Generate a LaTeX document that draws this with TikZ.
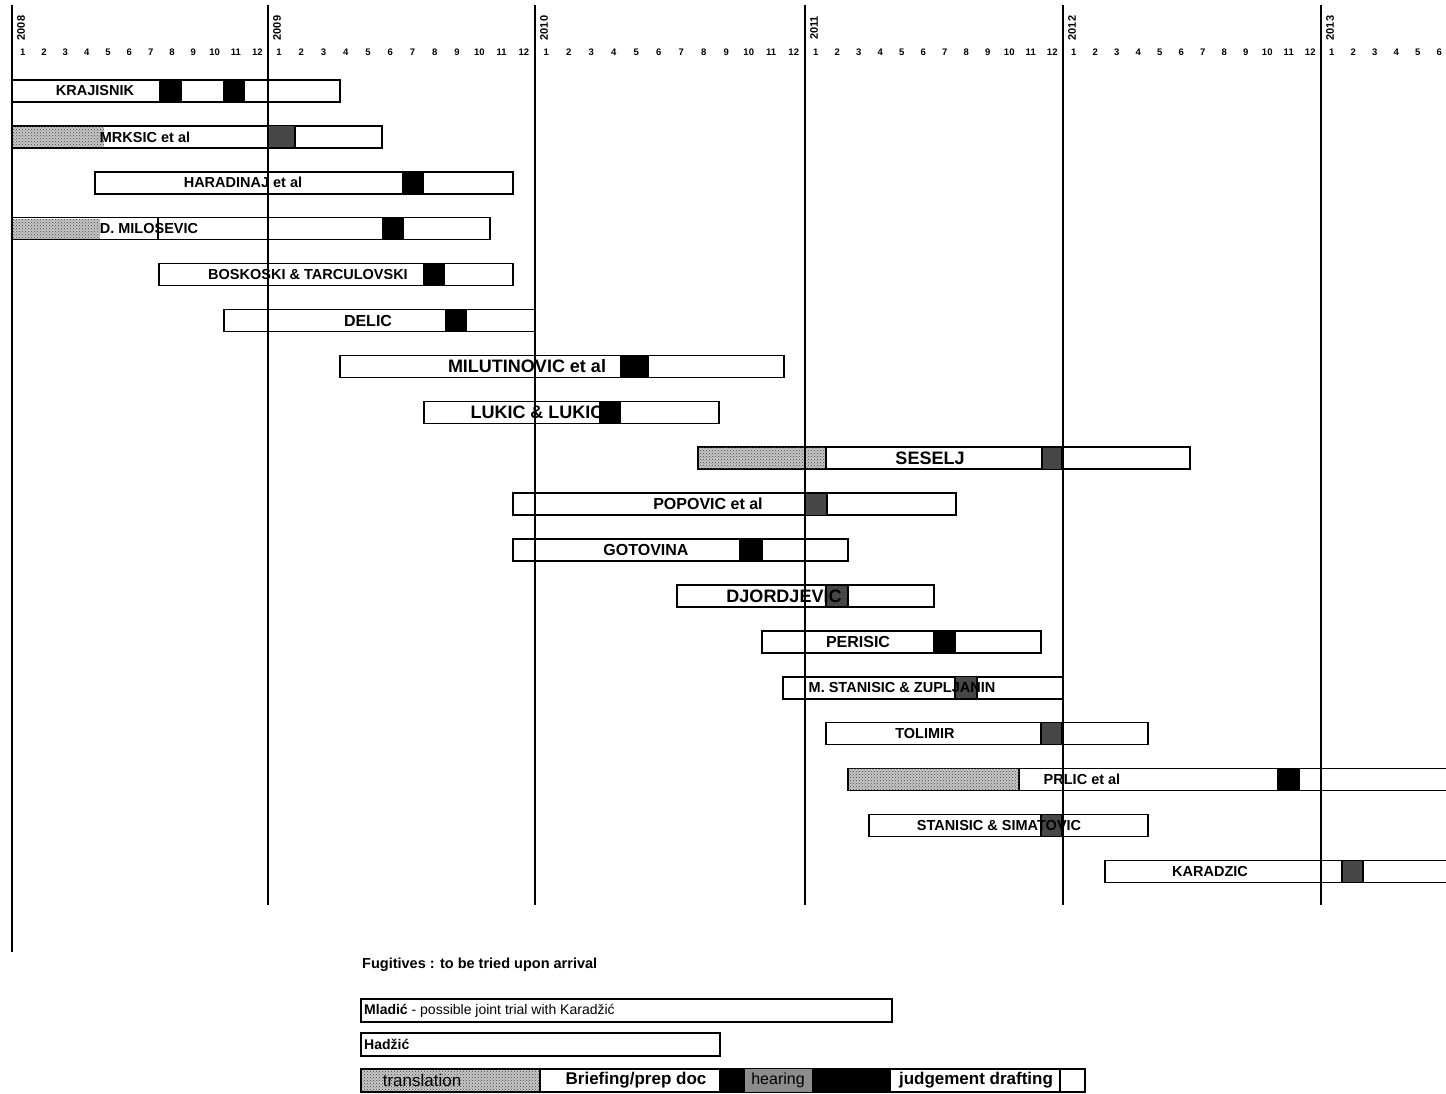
\documentclass[tikz,border=0pt]{standalone}
\usepackage{fontspec}
\setmainfont{Liberation Sans}
\usetikzlibrary{patterns}

\begin{document}
\begin{tikzpicture}[x=1pt, y=-1pt,
    bar/.style={draw=black, line width=1.6pt, fill=white},
    hearbox/.style={draw=black, line width=1.2pt, fill=black},
    dither/.style={draw=black, line width=1.2pt, fill=black!72},
    transbox/.style={fill=black!22, postaction={pattern=crosshatch dots, pattern color=black!75}},
    yearline/.style={line width=2pt},
    yearlab/.style={font=\bfseries\fontsize{11}{11}\selectfont, rotate=90, inner sep=0pt},
    monthlab/.style={font=\bfseries\fontsize{9.5}{10}\selectfont, inner sep=0pt},
    trialname/.style={font=\bfseries\fontsize{14.5}{15}\selectfont, inner sep=0pt},
    midname/.style={font=\bfseries\fontsize{16}{17}\selectfont, inner sep=0pt},
    bigname/.style={font=\bfseries\fontsize{18}{19}\selectfont, inner sep=0pt},
    legendtext/.style={font=\fontsize{17}{18}\selectfont, inner sep=0pt}
    ]
        \clip (0,0) rectangle (1446,1094);
        \fill[white] (0,0) rectangle (1446,1094);

        %Axis labels
        \foreach \yr/\xx in {2008/12, 2009/268, 2010/535, 2011/805, 2012/1063, 2013/1321}
            \node[yearlab] (yr\yr) at (\xx+9,28) {\yr};
        \foreach \xx/\nx in {12/268, 268/535, 535/805, 805/1063, 1063/1321}
            \foreach \m in {1,...,12}
                \node[monthlab] (mo\xx-\m) at ({\xx+(\m-0.5)*(\nx-\xx)/12},52) {\m};
        \foreach \m in {1,...,6}
            \node[monthlab] (mo1321-\m) at ({1321+(\m-0.5)*21.5},52) {\m};

        %Bars
        \foreach \i/\l/\r in {1/12/340, 2/12/382, 3/95/513, 4/12/490, 5/159/513,
                6/224/535, 7/340/784, 8/424/719, 9/698/1190, 10/513/956,
                11/513/848, 12/677/934, 13/762/1041, 14/783/1063, 15/826/1148,
                16/848/1460, 17/869/1148, 18/1105/1460}
            \draw[bar] (\l,{80+45.9*(\i-1)}) rectangle (\r,{102+45.9*(\i-1)});

        %Translation parts
        \fill[transbox] (13,127) rectangle (104,147);
        \fill[transbox] (13,219) rectangle (100,239);
        \draw[line width=1.6pt] (158,218) -- (158,240);
        \draw[transbox, draw=black, line width=1.6pt] (698,447.2) rectangle (826,469.2);
        \draw[transbox, draw=black, line width=1.6pt] (848,768.5) rectangle (1019,790.5);

        %Hearings
        \foreach \i/\l/\r/\st in {1/160/181/hearbox, 1/224/244/hearbox, 2/268/295/dither,
                3/403/423/hearbox, 4/383/403/hearbox, 5/424/444/hearbox,
                6/446/466/hearbox, 7/621/648/hearbox, 8/600/620/hearbox,
                9/1042/1062/dither, 10/805/827/dither, 11/740/762/hearbox,
                12/826/848/dither, 13/934/955/hearbox, 14/955/977/dither,
                15/1041/1062/dither, 16/1278/1299/hearbox, 17/1041/1062/dither,
                18/1342/1363/dither}
            \draw[\st] (\l,{80+45.9*(\i-1)}) rectangle (\r,{102+45.9*(\i-1)});

        %Trial names
        \foreach \i/\xx/\txt/\st in {1/95/KRAJISNIK/trialname,
                2/145/MRKSIC et al/trialname,
                3/243/HARADINAJ et al/trialname,
                4/149/D. MILOSEVIC/trialname,
                5/308/BOSKOSKI \& TARCULOVSKI/trialname,
                6/368/DELIC/midname,
                7/527/MILUTINOVIC et al/bigname,
                8/537/LUKIC \& LUKIC/bigname,
                9/930/SESELJ/bigname,
                10/708/POPOVIC et al/midname,
                11/646/GOTOVINA/midname,
                12/784/DJORDJEVIC/bigname,
                13/858/PERISIC/midname,
                14/902/M. STANISIC \& ZUPLJANIN/trialname,
                15/925/TOLIMIR/trialname,
                16/1082/PRLIC et al/trialname,
                17/999/STANISIC \& SIMATOVIC/trialname,
                18/1210/KARADZIC/trialname}
            \node[\st] (trial\i) at (\xx,{91+45.9*(\i-1)}) {\txt};

        %Year lines
        \draw[yearline] (12,5) -- (12,952);
        \foreach \xx in {268, 535, 805, 1063, 1321}
            \draw[yearline] (\xx,5) -- (\xx,905);

        %Fugitives
        \node[anchor=west, font=\bfseries\fontsize{14.5}{15}\selectfont, inner sep=0pt]
            (fug) at (362,965) {Fugitives : to be tried upon arrival};
        \draw[bar] (361,999) rectangle (892,1022);
        \node[anchor=west, font=\fontsize{14}{15}\selectfont, inner sep=0pt]
            (mladic) at (364,1010.5) {\textbf{Mladić} - possible joint trial with Karadžić};
        \draw[bar] (361,1033) rectangle (720,1056);
        \node[anchor=west, font=\bfseries\fontsize{14}{15}\selectfont, inner sep=0pt]
            (hadzic) at (364,1044.5) {Hadžić};

        %Legend
        \draw[bar] (361,1069) rectangle (1085,1092);
        \fill[transbox] (362,1070) rectangle (540,1091);
        \fill[black] (720,1069) rectangle (745,1092);
        \fill[black!45] (745,1069) rectangle (812,1092);
        \fill[black] (812,1069) rectangle (890,1092);
        \draw[line width=1.6pt] (540,1069) -- (540,1092) (720,1069) -- (720,1092)
            (890,1069) -- (890,1092) (1060,1069) -- (1060,1092);
        \node[legendtext] (ltrans) at (422,1080.5) {translation};
        \node[legendtext, font=\bfseries\fontsize{17}{18}\selectfont] (lprep) at (636,1080.5) {Briefing/prep doc};
        \node[legendtext, font=\fontsize{16}{17}\selectfont] (lhear) at (778,1080.5) {hearing};
        \node[legendtext, font=\bfseries\fontsize{17}{18}\selectfont] (ljudge) at (976,1080.5) {judgement drafting};
    \end{tikzpicture}
\end{document}
